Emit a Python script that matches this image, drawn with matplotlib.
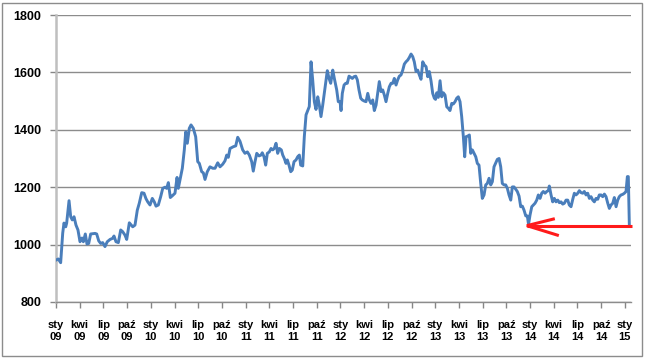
import matplotlib
matplotlib.use("Agg")
import matplotlib.pyplot as plt
from matplotlib.patches import Rectangle

# months since January 2009
months = [0.00, 0.29, 0.59, 0.85, 1.01, 1.23, 1.35, 1.65, 1.86, 2.06, 2.28, 2.53, 2.78, 3.04, 3.29, 3.46,
          3.71, 3.92, 4.14, 4.39, 4.94, 5.15, 5.41, 5.66, 5.91, 6.20, 6.49, 6.84, 7.18, 7.34, 7.59, 7.89,
          8.19, 8.44, 8.73, 8.95, 9.28, 9.71, 10.00, 10.29, 10.54, 10.85, 11.14, 11.39, 11.61, 11.90,
          12.19, 12.44, 12.66, 12.95, 13.25, 13.51, 13.80, 14.01, 14.22, 14.47, 14.72, 15.06, 15.32,
          15.48, 15.73, 15.99, 16.24, 16.42, 16.62, 16.87, 17.09, 17.38, 17.68, 17.94, 18.14, 18.44,
          18.65, 18.86, 19.15, 19.49, 19.84, 20.13, 20.47, 20.76, 21.10, 21.39, 21.61, 21.81, 22.03,
          22.44, 22.75, 23.00, 23.29, 23.63, 23.92, 24.22, 24.47, 24.77, 24.97, 25.19, 25.41, 25.70,
          25.95, 26.11, 26.33, 26.54, 26.75, 27.00, 27.22, 27.43, 27.63, 27.85, 28.06, 28.27, 28.52,
          28.70, 28.90, 29.11, 29.28, 29.49, 29.71, 29.91, 30.13, 30.38, 30.59, 30.80, 30.97, 31.23,
          31.43, 31.65, 31.86, 32.06, 32.28, 32.49, 32.70, 32.91, 33.13, 33.33, 33.54, 33.76, 34.05,
          34.34, 34.56, 34.77, 35.03, 35.23, 35.53, 35.73, 35.95, 36.08, 36.24, 36.46, 36.67, 36.87,
          37.09, 37.30, 37.51, 37.72, 37.94, 38.14, 38.35, 38.57, 38.77, 39.03, 39.24, 39.46, 39.66,
          39.87, 40.09, 40.29, 40.51, 40.72, 40.92, 41.14, 41.35, 41.56, 41.77, 41.99, 42.19, 42.41,
          42.62, 42.82, 43.04, 43.25, 43.46, 43.67, 43.89, 44.09, 44.30, 44.52, 44.72, 44.94, 45.15,
          45.35, 45.57, 45.78, 45.99, 46.20, 46.42, 46.62, 46.84, 47.05, 47.25, 47.47, 47.68, 47.89,
          48.04, 48.19, 48.39, 48.61, 48.82, 49.03, 49.24, 49.46, 49.66, 49.87, 50.09, 50.29, 50.51,
          50.72, 50.92, 51.14, 51.35, 51.56, 51.73, 51.90, 52.11, 52.32, 52.49, 52.70, 52.91, 53.13,
          53.33, 53.54, 53.76, 53.96, 54.18, 54.39, 54.59, 54.81, 55.03, 55.23, 55.44, 55.66, 55.86,
          56.08, 56.29, 56.49, 56.71, 56.92, 57.13, 57.34, 57.56, 57.76, 57.97, 58.19, 58.39, 58.61,
          58.82, 59.03, 59.24, 59.46, 59.66, 59.81, 60.00, 60.22, 60.42, 60.63, 60.85, 61.05, 61.27,
          61.48, 61.68, 61.90, 62.11, 62.32, 62.44, 62.66, 62.87, 63.08, 63.29, 63.51, 63.71, 63.92,
          64.14, 64.34, 64.56, 64.77, 64.97, 65.19, 65.41, 65.61, 65.82, 66.04, 66.24, 66.46, 66.67,
          66.87, 67.09, 67.30, 67.51, 67.72, 67.94, 68.14, 68.35, 68.57, 68.77, 68.99, 69.20, 69.41,
          69.62, 69.84, 70.04, 70.25, 70.47, 70.67, 70.89, 71.10, 71.30, 71.52, 71.73, 71.94, 72.15,
          72.32, 72.44, 72.57]

values = [946, 950, 937, 1040, 1075, 1062, 1075, 1153, 1097, 1086, 1097, 1068, 1051, 1010, 1023, 1010,
          1037, 1002, 1004, 1037, 1039, 1037, 1013, 1004, 1007, 993, 1010, 1018, 1022, 1030, 1010, 1007,
          1051, 1045, 1033, 1018, 1076, 1062, 1068, 1120, 1144, 1181, 1179, 1160, 1149, 1138,
          1161, 1149, 1134, 1138, 1167, 1196, 1200, 1196, 1216, 1164, 1170, 1179, 1234,
          1196, 1231, 1266, 1330, 1393, 1353, 1405, 1417, 1405, 1376, 1289, 1283, 1254,
          1250, 1227, 1254, 1271, 1266, 1266, 1285, 1271, 1280, 1292, 1312, 1304, 1335,
          1341, 1344, 1374, 1360, 1330, 1318, 1323, 1312, 1289, 1256, 1289, 1318, 1309,
          1312, 1320, 1306, 1277, 1318, 1323, 1335, 1330, 1335, 1353, 1318, 1335, 1330,
          1312, 1300, 1283, 1295, 1277, 1254, 1260, 1289, 1295, 1306, 1312, 1277, 1274,
          1376, 1452, 1467, 1481, 1637, 1574, 1498, 1471, 1515, 1486, 1446, 1486, 1545,
          1606, 1579, 1562, 1608, 1579, 1539, 1498, 1498, 1467, 1527, 1556, 1562, 1562,
          1587, 1583, 1579, 1585, 1587, 1574, 1539, 1510, 1504, 1500, 1498, 1527, 1504,
          1492, 1504, 1467, 1486, 1527, 1568, 1533, 1539, 1521, 1498, 1527, 1550, 1562,
          1562, 1579, 1556, 1574, 1587, 1591, 1608, 1629, 1637, 1643, 1652, 1664, 1655,
          1637, 1603, 1608, 1591, 1576, 1637, 1626, 1620, 1585, 1603, 1570, 1527, 1510,
          1506, 1529, 1513, 1571, 1515, 1529, 1521, 1480, 1475, 1467, 1492, 1490, 1498,
          1510, 1515, 1498, 1446, 1376, 1306, 1376, 1378, 1382, 1318, 1330, 1318, 1306,
          1283, 1277, 1213, 1161, 1173, 1208, 1213, 1231, 1208, 1219, 1271, 1285, 1297,
          1300, 1271, 1213, 1208, 1208, 1196, 1173, 1155, 1201, 1201, 1193, 1185, 1169,
          1132, 1134, 1120, 1100, 1100, 1070, 1103, 1132, 1138, 1144, 1155, 1173, 1161,
          1179, 1185, 1179, 1185, 1188, 1204, 1173, 1149, 1161, 1149, 1155, 1146, 1149,
          1141, 1144, 1155, 1155, 1138, 1132, 1158, 1179, 1173, 1179, 1188, 1181, 1179,
          1185, 1173, 1179, 1161, 1167, 1155, 1149, 1161, 1158, 1173, 1173, 1167, 1176,
          1167, 1144, 1126, 1138, 1144, 1164, 1132, 1155, 1167, 1173, 1175, 1179, 1185,
          1237, 1237, 1068]

month_names = ["sty", "kwi", "lip", "paź"]
years = ["09", "10", "11", "12", "13", "14", "15"]
tick_labels = [f"{month_names[i % 4]}\n{years[i // 4]}" for i in range(25)]
tick_pos = [3 * i for i in range(25)]

# red arrow annotation (tip, barbs, tail) in data units
arrow_level = 1066
arrow_tip = 59.6
arrow_tail = 72.9
barb_top = (62.95, 1089)
barb_bot = (63.46, 1033)

plt.rcParams['font.family'] = ['Liberation Sans', 'DejaVu Sans']

fig = plt.figure(figsize=(6.45, 3.58), dpi=100)
ax = fig.add_axes([56/645, 1 - 302/358, (631 - 56)/645, (302 - 15)/358])

ax.plot(months, values, color="#4a7ebb", lw=2.1, solid_joinstyle="round", zorder=3)

red = "#ff1a1a"
ax.plot([arrow_tip, arrow_tail], [arrow_level, arrow_level], color=red, lw=2.2,
        solid_capstyle="butt", zorder=4, clip_on=False)
ax.plot([barb_top[0], arrow_tip, barb_bot[0]], [barb_top[1], arrow_level, barb_bot[1]],
        color=red, lw=2.2, zorder=4, solid_joinstyle="miter")

ax.set_xlim(0, 72.78)
ax.set_ylim(800, 1800)
ax.set_yticks(range(800, 1801, 200))
ax.set_xticks(tick_pos)
ax.set_xticklabels(tick_labels, fontsize=8, fontweight="bold", linespacing=1.3)
ax.tick_params(axis="y", labelsize=9, length=4, color="#868686", width=1, pad=6.5)
for lbl in ax.get_yticklabels():
    lbl.set_fontweight("bold")
ax.tick_params(axis="x", length=4, color="#868686", width=1, pad=9)

ax.grid(axis="y", color="#8c8c8c", lw=1)
ax.set_axisbelow(True)
for s in ["top", "right"]:
    ax.spines[s].set_visible(False)
ax.spines["left"].set_color("#bfbfbf")
ax.spines["left"].set_linewidth(1.8)
ax.spines["bottom"].set_color("#8c8c8c")
ax.spines["bottom"].set_linewidth(1)

fig.patches.append(Rectangle((2/645, 2/358), 640/645, 353/358, transform=fig.transFigure,
                             fill=False, edgecolor="#8c8c8c", lw=1))

fig.savefig("out.png", dpi=100)
